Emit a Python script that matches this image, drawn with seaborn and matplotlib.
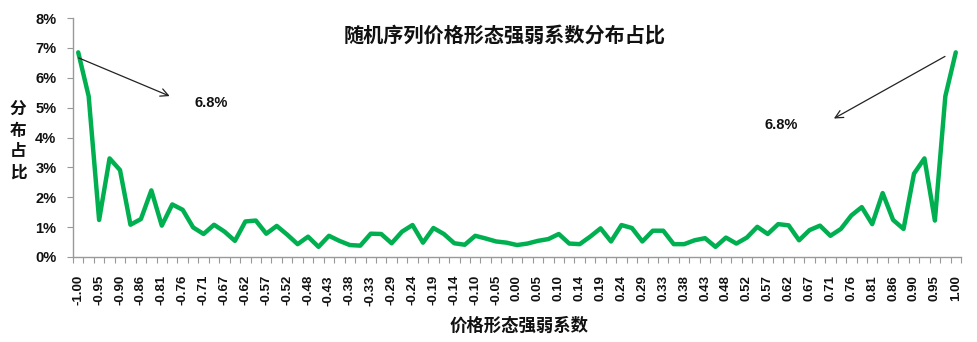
import numpy as np
import pandas as pd
import matplotlib
matplotlib.use("Agg")
import matplotlib.pyplot as plt
import seaborn as sns
from matplotlib.ticker import FixedLocator, PercentFormatter

# ---- data ----
share_pct = [6.85, 5.38, 1.24, 3.30, 2.91, 1.08, 1.27, 2.23, 1.05, 1.76,
             1.58, 0.99, 0.77, 1.08, 0.85, 0.54, 1.19, 1.22, 0.78, 1.04,
             0.75, 0.43, 0.68, 0.34, 0.71, 0.54, 0.40, 0.38, 0.78, 0.77,
             0.46, 0.85, 1.07, 0.48, 0.97, 0.77, 0.46, 0.41, 0.71, 0.62,
             0.52, 0.48, 0.40, 0.45, 0.54, 0.60, 0.77, 0.45, 0.43, 0.68,
             0.96, 0.52, 1.07, 0.97, 0.52, 0.88, 0.88, 0.43, 0.43, 0.56,
             0.63, 0.34, 0.65, 0.45, 0.65, 1.01, 0.77, 1.10, 1.06, 0.56,
             0.90, 1.05, 0.71, 0.94, 1.39, 1.67, 1.10, 2.14, 1.24, 0.94,
             2.79, 3.30, 1.22, 5.38, 6.85]
category_index = list(range(len(share_pct)))
tick_labels = ["-1.00", "-0.95", "-0.90", "-0.86", "-0.81", "-0.76", "-0.71",
               "-0.67", "-0.62", "-0.57", "-0.52", "-0.48", "-0.43", "-0.38",
               "-0.33", "-0.29", "-0.24", "-0.19", "-0.14", "-0.10", "-0.05",
               "0.00", "0.05", "0.10", "0.14", "0.19", "0.24", "0.29", "0.33",
               "0.38", "0.43", "0.48", "0.52", "0.57", "0.62", "0.67", "0.71",
               "0.76", "0.81", "0.86", "0.90", "0.95", "1.00"]
title = "随机序列价格形态强弱系数分布占比"
xlabel = "价格形态强弱系数"
ylabel = "分布占比"
note = "6.8%"

df = pd.DataFrame({"idx": category_index, "share": share_pct})

sns.set_theme(style="white")
plt.rcParams["font.family"] = ["Liberation Sans", "Noto Sans CJK SC", "DejaVu Sans"]

fig = plt.figure(figsize=(9.78, 3.42), dpi=100)
ax = fig.add_axes([73 / 978, 1 - 257 / 342, (961 - 73) / 978, (257 - 18) / 342])

sns.lineplot(data=df, x="idx", y="share", ax=ax, color="#00B050",
             linewidth=3.2, solid_joinstyle="round", solid_capstyle="round")

ax.set_xlim(-0.5, len(share_pct) - 0.5)
ax.set_ylim(0, 8)

# y axis
ax.yaxis.set_major_locator(FixedLocator(range(0, 9)))
ax.yaxis.set_major_formatter(PercentFormatter(decimals=0))
for lab in ax.get_yticklabels():
    lab.set_fontweight("bold")
ax.tick_params(axis="y", which="major", length=4, width=0.8, color="#999999",
               direction="out", left=True, labelsize=10.5, pad=8, labelcolor="#111111")

# x axis: labels every other category, ticks at category boundaries
ax.set_xticks(category_index[::2])
ax.set_xticklabels(tick_labels, rotation=90, fontsize=9.5, fontweight="bold",
                   color="#111111")
ax.set_xticks(np.arange(-0.5, len(share_pct), 1.0), minor=True)
ax.tick_params(axis="x", which="major", length=0, pad=13)
ax.tick_params(axis="x", which="minor", length=4, width=0.8, color="#999999",
               direction="out", bottom=True)

for side in ["top", "right"]:
    ax.spines[side].set_visible(False)
for side in ["left", "bottom"]:
    ax.spines[side].set_color("#999999")
    ax.spines[side].set_linewidth(1.0)

ax.set_xlabel("")
ax.set_ylabel("")

cjk = ["Noto Sans CJK SC", "DejaVu Sans"]
fig.text(505 / 978, 1 - 35 / 342, title, ha="center", va="center",
         fontsize=14.5, fontweight="bold", family=cjk, color="#111111")
fig.text(519 / 978, 1 - 326 / 342, xlabel, ha="center", va="center",
         fontsize=12.5, fontweight="bold", family=cjk, color="#111111")
fig.text(18 / 978, 1 - 141 / 342, "\n".join(ylabel), ha="center", va="center",
         fontsize=12, fontweight="bold", family=cjk, color="#111111",
         linespacing=1.2)

# annotations
arrow = dict(arrowstyle="->", color="#222222", lw=0.9, mutation_scale=14)
ax.annotate("", xy=(9.0, 5.35), xytext=(-0.2, 6.7), arrowprops=arrow)
ax.annotate("", xy=(72.1, 4.59), xytext=(83.2, 6.76), arrowprops=arrow)
ax.text(12.7, 5.17, note, ha="center", va="center", fontsize=10.5,
        fontweight="bold", color="#111111")
ax.text(67.3, 4.43, note, ha="center", va="center", fontsize=10.5,
        fontweight="bold", color="#111111")

fig.savefig("out.png", dpi=100)
